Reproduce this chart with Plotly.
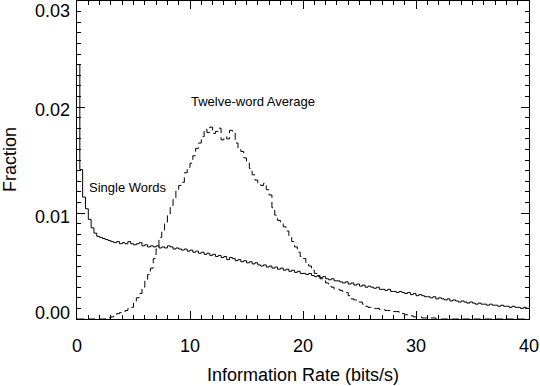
import numpy as np
import plotly.graph_objects as go

# histogram bins: 0.25 bits/s wide, 0 to 40
bin_width = 0.25
x_min, x_max = 0, 40

single_words = [
    0.0240, 0.0141, 0.0115, 0.0104,
    0.0094, 0.0086, 0.0081, 0.0078,
    0.0077, 0.0076, 0.0075, 0.0074,
    0.0073, 0.0072, 0.0073, 0.0071,
    0.0072, 0.0071, 0.0073, 0.0071,
    0.0070, 0.0071, 0.0072, 0.0069,
    0.0070, 0.0068, 0.0069, 0.0068,
    0.0069, 0.0067, 0.0068, 0.0067,
    0.0069, 0.0068, 0.0066, 0.0067,
    0.0066, 0.0065, 0.0066, 0.0064,
    0.0065, 0.0063, 0.0064, 0.0062,
    0.0063, 0.0061, 0.0062, 0.0060,
    0.0061, 0.0059, 0.0060, 0.0058,
    0.0059, 0.0056, 0.0058, 0.0057,
    0.0055, 0.0056, 0.0054, 0.0055,
    0.0053, 0.0054, 0.0052, 0.0053,
    0.0051, 0.0050, 0.0051, 0.0049,
    0.0050, 0.0048, 0.0049, 0.0047,
    0.0048, 0.0046, 0.0047, 0.0045,
    0.0046, 0.0044, 0.0045, 0.0043,
    0.0043, 0.0042, 0.0043, 0.0041,
    0.0040, 0.0041, 0.0039, 0.0040,
    0.0038, 0.0037, 0.0038, 0.0036,
    0.0036, 0.0035, 0.0034, 0.0035,
    0.0033, 0.0034, 0.0032, 0.0033,
    0.0031, 0.0032, 0.0030, 0.0031,
    0.0030, 0.0029, 0.0030, 0.0028,
    0.0028, 0.0027, 0.0028, 0.0026,
    0.0026, 0.0025, 0.0026, 0.0025,
    0.0024, 0.0025, 0.0023, 0.0024,
    0.0022, 0.0023, 0.0022, 0.0021,
    0.0021, 0.0020, 0.0021, 0.0019,
    0.0020, 0.0019, 0.0018, 0.0019,
    0.0017, 0.0018, 0.0017, 0.0016,
    0.0017, 0.0016, 0.0015, 0.0016,
    0.0015, 0.0014, 0.0015, 0.0014,
    0.0014, 0.0013, 0.0014, 0.0013,
    0.0013, 0.0012, 0.0013, 0.0012,
    0.0012, 0.0011, 0.0012, 0.0011,
    0.0011, 0.0010, 0.0011, 0.0010,
]

twelve_word_avg = [
    0.0000, 0.0000, 0.0000, 0.0000,
    0.0000, 0.0000, 0.0000, 0.0000,
    0.0000, 0.0000, 0.0001, 0.0001,
    0.0002, 0.0003, 0.0005, 0.0006,
    0.0006, 0.0008, 0.0010, 0.0011,
    0.0015, 0.0020, 0.0024, 0.0030,
    0.0036, 0.0042, 0.0048, 0.0057,
    0.0066, 0.0077, 0.0084, 0.0090,
    0.0099, 0.0107, 0.0113, 0.0122,
    0.0126, 0.0129, 0.0138, 0.0143,
    0.0147, 0.0154, 0.0161, 0.0166,
    0.0172, 0.0179, 0.0176, 0.0181,
    0.0175, 0.0177, 0.0180, 0.0169,
    0.0172, 0.0170, 0.0178, 0.0176,
    0.0166, 0.0160, 0.0158, 0.0152,
    0.0148, 0.0142, 0.0136, 0.0131,
    0.0128, 0.0126, 0.0128, 0.0122,
    0.0117, 0.0105, 0.0098, 0.0093,
    0.0090, 0.0087, 0.0083, 0.0077,
    0.0073, 0.0068, 0.0063, 0.0059,
    0.0057, 0.0053, 0.0050, 0.0046,
    0.0043, 0.0040, 0.0038, 0.0036,
    0.0034, 0.0031, 0.0030, 0.0028,
    0.0028, 0.0027, 0.0026, 0.0025,
    0.0022, 0.0019, 0.0018, 0.0016,
    0.0016, 0.0014, 0.0012, 0.0011,
    0.0011, 0.0010, 0.0010, 0.0009,
    0.0009, 0.0008, 0.0008, 0.0007,
    0.0007, 0.0007, 0.0006, 0.0005,
    0.0004, 0.0004, 0.0003, 0.0002,
    0.0002, 0.0002, 0.0001, 0.0001,
    0.0001, 0.0001, 0.0001, 0.0000,
] + [0.0] * 32

y_ticks = [0.00, 0.01, 0.02, 0.03]
x_ticks = [0, 10, 20, 30, 40]

FONT = "Liberation Sans, Arial, sans-serif"


def step_xy(vals):
    # left bin edges + closing edge, last value repeated for the hv step
    edges = np.arange(len(vals) + 1) * bin_width + x_min
    return edges, list(vals) + [vals[-1]]


fig = go.Figure()
for vals, dash in [(single_words, "solid"), (twelve_word_avg, "7px,4px")]:
    xs, ys = step_xy(vals)
    fig.add_trace(go.Scatter(x=xs, y=ys, mode="lines", line_shape="hv",
                             line=dict(color="black", width=1, dash=dash),
                             showlegend=False, hoverinfo="skip"))

axis_common = dict(showline=True, linecolor="black", linewidth=1, mirror="allticks",
                   ticks="inside", ticklen=8, tickcolor="black", tickwidth=1,
                   showgrid=False, zeroline=False,
                   tickfont=dict(family=FONT, size=18, color="black"))

fig.update_xaxes(range=[x_min, x_max], tickvals=x_ticks, ticklabelstandoff=10,
                 minor=dict(dtick=1, ticklen=4, ticks="inside", tickcolor="black"),
                 **axis_common)
fig.update_yaxes(range=[0, 0.03], tickvals=y_ticks, showticklabels=False,
                 minor=dict(dtick=0.001, ticklen=4, ticks="inside", tickcolor="black"),
                 **axis_common)

# y tick labels as annotations so the top one stays inside the page
y_label_shift = [6, -4, -3, -10]
for v, s in zip(y_ticks, y_label_shift):
    fig.add_annotation(x=0, xref="paper", y=v, yref="y", text=f"{v:.2f}",
                       showarrow=False, xanchor="right", yanchor="middle",
                       xshift=-5, yshift=s,
                       font=dict(family=FONT, size=18, color="black"))

fig.add_annotation(x=-0.148, xref="paper", y=0.5, yref="paper", text="Fraction",
                   textangle=-90, showarrow=False, xanchor="center", yanchor="middle",
                   font=dict(family=FONT, size=18, color="black"))
fig.add_annotation(x=0.5, xref="paper", y=-0.176, yref="paper",
                   text="Information Rate (bits/s)", showarrow=False,
                   xanchor="center", yanchor="middle",
                   font=dict(family=FONT, size=18, color="black"))

fig.add_annotation(x=4.5, y=0.01245, text="Single Words", showarrow=False,
                   font=dict(family=FONT, size=13, color="black"))
fig.add_annotation(x=15.6, y=0.0205, text="Twelve-word Average", showarrow=False,
                   font=dict(family=FONT, size=13, color="black"))

fig.update_layout(width=540, height=386, margin=dict(l=77, r=11, t=1, b=67),
                  plot_bgcolor="white", paper_bgcolor="white")

# drop the default 8px page margin so the figure sits at the window corner
fig.write_html("out.html", config={"displayModeBar": False},
               post_script="document.body.style.margin='0';")
